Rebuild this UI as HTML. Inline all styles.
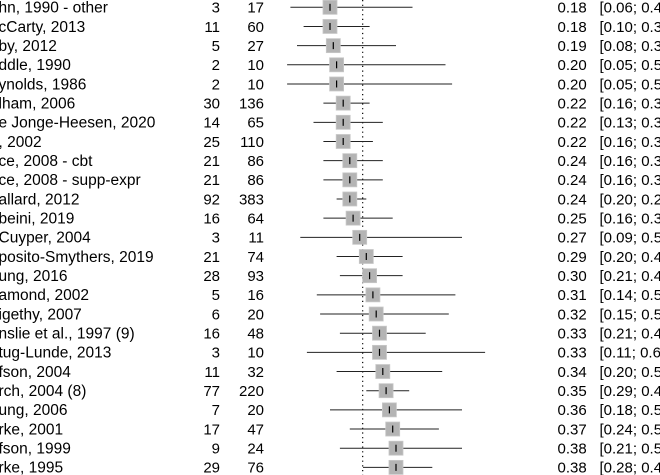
<!DOCTYPE html>
<html><head><meta charset="utf-8"><style>
html,body{margin:0;padding:0;background:#fff;width:660px;height:475px;overflow:hidden}
svg{display:block}
text{font-family:"Liberation Sans",Arial,sans-serif;font-size:15px;fill:#000}
text.lab{font-size:15.5px}
</style></head><body>
<svg id="plot" width="660" height="475" viewBox="0 0 660 475" xmlns="http://www.w3.org/2000/svg"></svg>
<script>
const labels=["hn, 1990 - other","cCarty, 2013","by, 2012","ddle, 1990","ynolds, 1986","lham, 2006","e Jonge-Heesen, 2020",", 2002","ce, 2008 - cbt","ce, 2008 - supp-expr","allard, 2012","beini, 2019","Cuyper, 2004","posito-Smythers, 2019","ung, 2016","amond, 2002","igethy, 2007","nslie et al., 1997 (9)","tug-Lunde, 2013","fson, 2004","rch, 2004 (8)","ung, 2006","rke, 2001","fson, 1999","rke, 1995"];
const events=[3,11,5,2,2,30,14,25,21,21,92,16,3,21,28,5,6,16,3,11,77,7,17,9,29];
const totals=[17,60,27,10,10,136,65,110,86,86,383,64,11,74,93,16,20,48,10,32,220,20,47,24,76];
const estimates=[0.18,0.18,0.19,0.20,0.20,0.22,0.22,0.22,0.24,0.24,0.24,0.25,0.27,0.29,0.30,0.31,0.32,0.33,0.33,0.34,0.35,0.36,0.37,0.38,0.38];
const lower=[0.06,0.10,0.08,0.05,0.05,0.16,0.13,0.16,0.16,0.16,0.20,0.16,0.09,0.20,0.21,0.14,0.15,0.21,0.11,0.20,0.29,0.18,0.24,0.21,0.28];
const upper=[0.43,0.30,0.38,0.53,0.55,0.30,0.34,0.31,0.34,0.34,0.29,0.37,0.58,0.40,0.40,0.56,0.54,0.47,0.65,0.52,0.42,0.58,0.51,0.58,0.49];
const pooled=0.279;

const svg=document.getElementById('plot');
const NS='http://www.w3.org/2000/svg';
const xs=v=>270.6+330*v;
const ys=i=>7.3+i*19.17;
function mk(tag,attrs,parent){const e=document.createElementNS(NS,tag);for(const k in attrs)e.setAttribute(k,attrs[k]);(parent||svg).appendChild(e);return e;}
const f=v=>v.toFixed(2);

const ref=mk('line',{x1:xs(pooled),x2:xs(pooled),y1:0,y2:475,stroke:'#000','stroke-width':1.2,'stroke-dasharray':'1.2,3.5'});



labels.forEach((lab,i)=>{
  const y=ys(i);
  const g=mk('g',{});
  
  
  const t=mk('text',{x:-1.5,y:y+5.3,'class':'lab'},g);t.textContent=lab;
  
  
  const e=mk('text',{x:220,y:y+5.3,'text-anchor':'end'},g);e.textContent=events[i];
  
  
  const n=mk('text',{x:264,y:y+5.3,'text-anchor':'end'},g);n.textContent=totals[i];
  
  
  const ci=mk('line',{x1:xs(lower[i]),x2:xs(upper[i]),y1:y,y2:y,stroke:'#222','stroke-width':1},g);
  
  
  const b=mk('rect',{x:xs(estimates[i])-7,y:y-7,width:14,height:14,fill:'#b4b4b4',stroke:'#c8c8c8','stroke-width':0.8},g);
  
  
  const tk=mk('line',{x1:xs(estimates[i]),x2:xs(estimates[i]),y1:y-3.5,y2:y+3.5,stroke:'#000','stroke-width':1.2},g);
  
  
  const es=mk('text',{x:557.5,y:y+5.3},g);es.textContent=f(estimates[i]);
  
  
  const ct=mk('text',{x:599.5,y:y+5.3},g);ct.textContent='['+f(lower[i])+'; '+f(upper[i])+']';
  
  
});
</script>
</body></html>
